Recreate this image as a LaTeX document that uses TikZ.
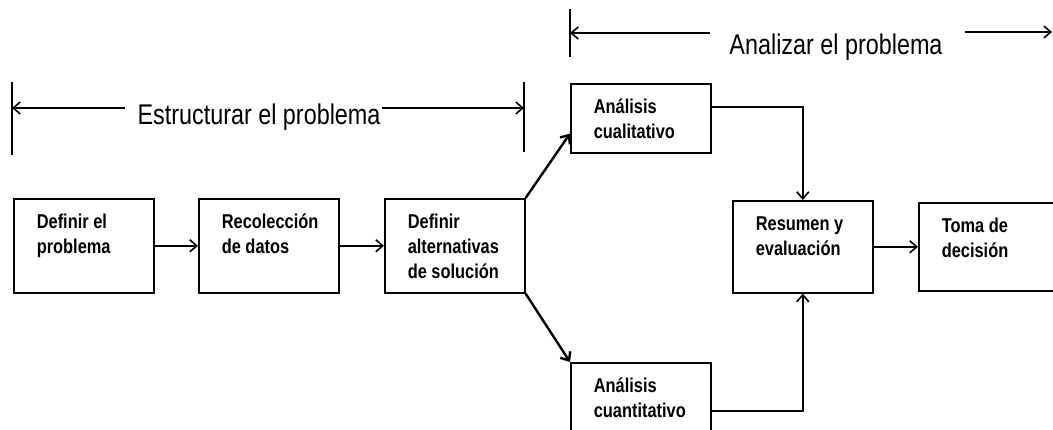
\documentclass[tikz,border=0pt]{standalone}
\usepackage{fontspec}
\newfontfamily\narrowfont[FakeStretch=0.82]{Liberation Sans}
\usetikzlibrary{arrows.meta}
\newcommand{\boxtxt}[2]{\parbox[c][#1][t]{94pt}{\raggedright\strut #2}}

\begin{document}
\begin{tikzpicture}[x=1pt,y=-1pt,line width=1.6pt,>={Straight Barb[length=7pt,width=12pt]},
    caja/.style={draw,anchor=north west,inner xsep=23pt,inner ysep=12.5pt,font=\narrowfont\bfseries\fontsize{20}{25}\selectfont},
    etiqueta/.style={font=\narrowfont\fontsize{28.5}{34}\selectfont,inner sep=0pt},
    gruesa/.style={->,line width=2.4pt}]
    \useasboundingbox (0,0) rectangle (1053,430);
    % cajas del proceso
    \node[caja] (definir) at (13,198) {\boxtxt{69pt}{Definir el\\problema}};
    \node[caja] (recoleccion) at (198,198) {\boxtxt{69pt}{Recolección\\de datos}};
    \node[caja] (alternativas) at (384,198) {\boxtxt{69pt}{Definir\\alternativas\\de solución}};
    \node[caja] (cualitativo) at (570,83) {\boxtxt{44pt}{Análisis\\cualitativo}};
    \node[caja] (cuantitativo) at (570,362) {\boxtxt{47pt}{Análisis\\cuantitativo}};
    \node[caja] (resumen) at (732,200) {\boxtxt{67pt}{Resumen y\\evaluación}};
    \node[caja] (toma) at (918,202) {\boxtxt{63pt}{Toma de\\decisión}};
    % flechas
    \draw[->] (definir) -- (recoleccion);
    \draw[->] (recoleccion) -- (alternativas);
    \draw[gruesa] (alternativas.north east) -- ([yshift=20pt]cualitativo.south west);
    \draw[gruesa] (alternativas.south east) -- (cuantitativo.north west);
    \draw[->] ([yshift=11pt]cualitativo.east) -| (resumen.north);
    \draw[->] ([yshift=-12pt]cuantitativo.east) -| (resumen.south);
    \draw[->] (resumen) -- (toma);
    % estructurar el problema
    \draw (12,82) -- (12,155);
    \draw (524,82) -- (524,152);
    \node[etiqueta,anchor=base] (estructurar) at (259,125) {Estructurar el problema};
    \draw[->] (125,108) -- (12,108);
    \draw[->] (382,108) -- (524,108);
    % analizar el problema
    \draw (570,9) -- (570,57);
    \node[etiqueta,anchor=base] (analizar) at (836,55) {Analizar el problema};
    \draw[->] (710,33) -- (570,33);
    \draw[->] (965,32) -- (1052,32);
\end{tikzpicture}
\end{document}
